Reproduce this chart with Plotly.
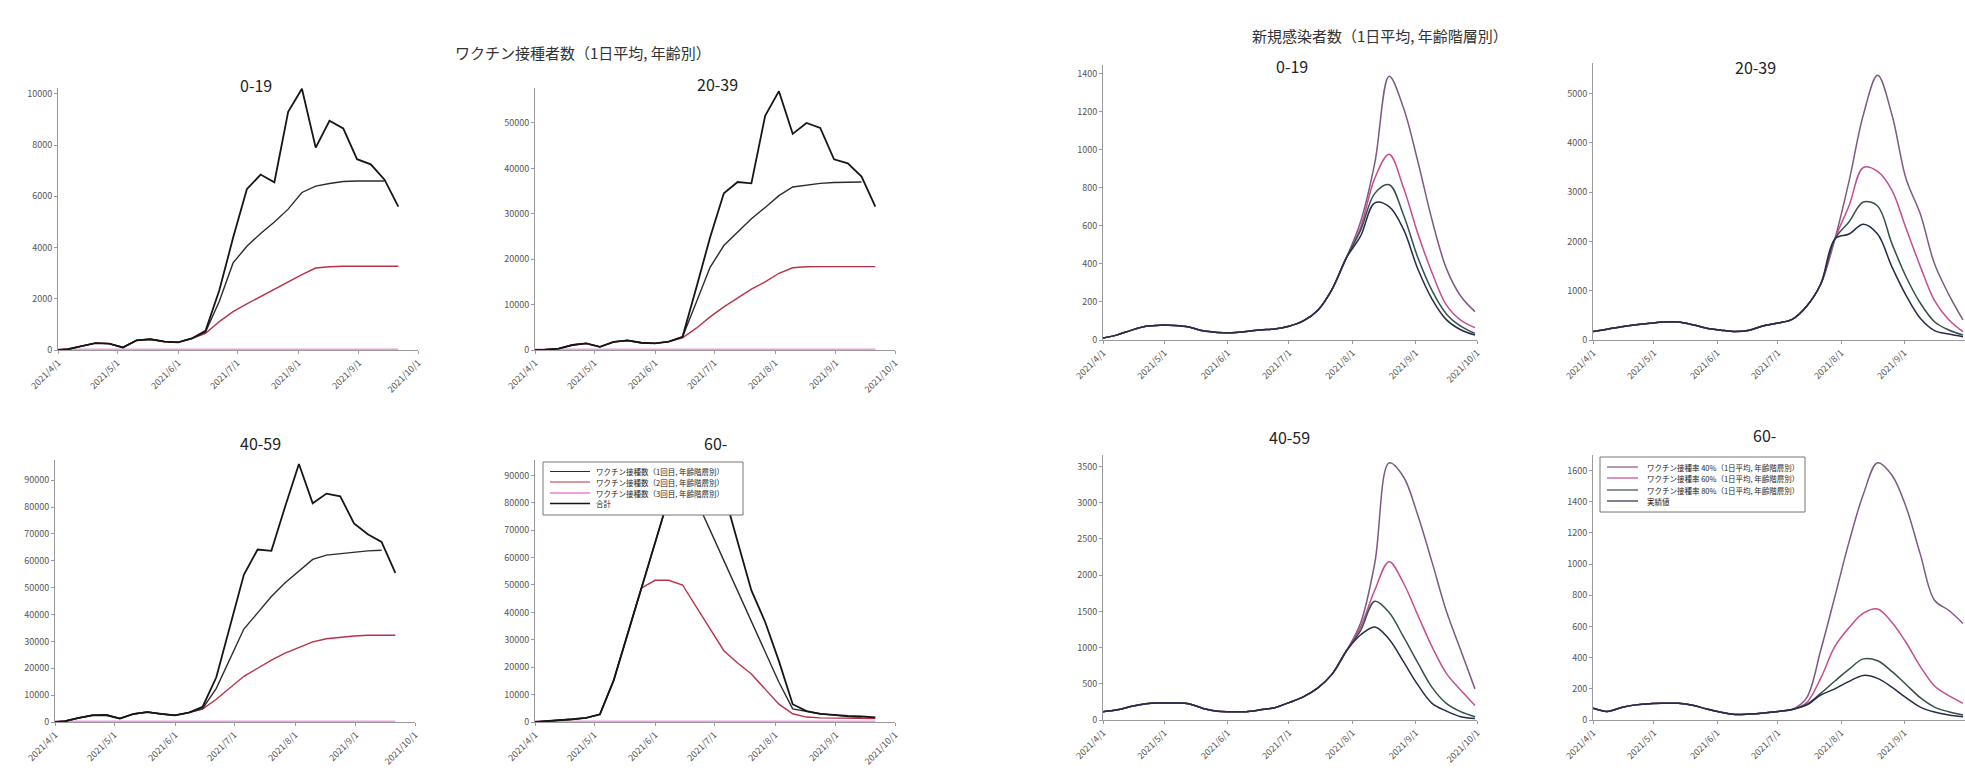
import pandas as pd
import plotly.graph_objects as go

W, H = 1965, 779
FONT = "Noto Sans CJK JP, Noto Sans, sans-serif"

# ---------------- time axes ----------------
start = pd.Timestamp("2021-04-01")
left_days = [0, 5, 12, 19, 26, 33, 40, 47, 54, 61, 68, 75, 82, 89, 96, 103,
             110, 117, 124, 131, 138, 145, 152, 159, 166, 173]
right_days = [0, 7, 14, 21, 28, 35, 42, 49, 56, 63, 70, 77, 84, 91, 98, 105,
              112, 119, 126, 133, 140, 147, 154, 161, 168, 175, 182]
left_dates = [start + pd.Timedelta(days=d) for d in left_days]
right_dates = [start + pd.Timedelta(days=d) for d in right_days]

month_ticks = ["2021-04-01", "2021-05-01", "2021-06-01", "2021-07-01",
               "2021-08-01", "2021-09-01", "2021-10-01"]
month_labels = ["2021/4/1", "2021/5/1", "2021/6/1", "2021/7/1",
                "2021/8/1", "2021/9/1", "2021/10/1"]

# ---------------- vaccinations per day (left block) ----------------
vac_0_19_total = [0, 30, 150, 270, 250, 100, 380, 420, 330, 300, 450, 750, 2330, 4380, 6280,
                  6850, 6550, 9300, 10200, 7900, 8950, 8650, 7450, 7250, 6650, 5600]
vac_0_19_first = [0, 30, 150, 270, 250, 100, 380, 420, 330, 300, 450, 700, 1900, 3400, 4050,
                  4550, 5000, 5500, 6150, 6400, 6500, 6580, 6600, 6600, 6600, None]
vac_0_19_second = [0, 30, 150, 270, 250, 100, 380, 420, 330, 300, 450, 650, 1110, 1500, 1800,
                   2090, 2380, 2640, 2940, 3200, 3250, 3270, 3270, 3270, 3270, 3270]

vac_20_39_total = [0, 50, 300, 1100, 1450, 700, 1800, 2100, 1600, 1450, 1850, 2900, 13700, 24800,
                   34500, 37000, 36700, 51600, 57000, 47600, 50000, 48900, 42000, 41100, 38200, 31600]
vac_20_39_first = [0, 50, 300, 1100, 1450, 700, 1800, 2100, 1600, 1450, 1850, 2900, 10500, 18200,
                   23000, 25900, 28900, 31400, 34000, 35900, 36300, 36700, 36900, 37000, 37000, None]
vac_20_39_second = [0, 50, 300, 1100, 1450, 700, 1800, 2100, 1600, 1450, 1850, 2700, 4800, 7300,
                    9500, 11400, 13400, 15000, 16900, 18100, 18350, 18360, 18360, 18360, 18360, 18360]

vac_40_59_total = [0, 300, 1500, 2500, 2600, 1300, 3000, 3700, 3000, 2500, 3500, 5600, 16650, 35700,
                   54800, 64200, 63700, 80200, 96000, 81400, 85000, 84000, 73900, 69900, 67000, 55500]
vac_40_59_first = [0, 300, 1500, 2500, 2600, 1300, 3000, 3700, 3000, 2500, 3500, 5000, 12550, 23760,
                   34600, 40600, 46700, 51800, 56300, 60500, 62100, 62700, 63200, 63700, 63900, None]
vac_40_59_second = [0, 300, 1500, 2500, 2600, 1300, 3000, 3700, 3000, 2500, 3500, 4800, 8450, 12800,
                    17000, 20000, 23000, 25600, 27850, 29800, 31000, 31600, 32000, 32300, 32300, 32300]

vac_60_total = [0, 200, 600, 1000, 1500, 2800, 15200, 32000, 48800, 65600, 82000, 90000, 92000, 90000,
                83700, 65800, 48000, 36500, 22200, 6500, 4000, 3000, 2500, 2200, 2000, 1700]
vac_60_first = [0, 200, 600, 1000, 1500, 2800, 15200, 32000, 48800, 65600, 82000, 88000, 81000, 70000,
                58900, 47800, 36700, 25600, 14500, 4800, 3900, 3000, 2500, 2000, 1800, None]
vac_60_second = [0, 200, 600, 1000, 1500, 2800, 15200, 32000, 48800, 51700, 51700, 50000, 42000, 34000,
                 26000, 21500, 17500, 12000, 6500, 3000, 1800, 1500, 1400, 1300, 1300, 1300]

vac_third = [0, 0, 0, 0, 0, 0, 0, 0, 0, 0, 0, 0, 0, 0, 0, 0, 0, 0, 0, 0, 0, 0, 0, 0, 0, 0]

# ---------------- new cases per day, four scenarios (right block) ----------------
cases_0_19_a = [10, 27, 52, 72, 78, 76, 68, 48, 40, 38, 45, 53, 58, 72, 100, 155, 265, 430,
                620, 930, 1385, 1220, 940, 630, 376, 231, 149]
cases_0_19_b = [10, 27, 52, 72, 78, 76, 68, 48, 40, 38, 45, 53, 58, 72, 100, 155, 265, 430,
                590, 850, 975, 801, 561, 353, 184, 104, 65]
cases_0_19_c = [10, 27, 52, 72, 78, 76, 68, 48, 40, 38, 45, 53, 58, 72, 100, 155, 265, 430,
                575, 770, 815, 658, 434, 259, 137, 73, 35]
cases_0_19_d = [10, 27, 52, 72, 78, 76, 68, 48, 40, 38, 45, 53, 58, 72, 100, 155, 265, 430,
                545, 720, 700, 582, 374, 215, 107, 54, 26]

cases_20_39_a = [170, 220, 270, 310, 340, 365, 365, 310, 240, 200, 172, 200, 290, 345, 420, 680, 1130, 2050,
                 3230, 4570, 5370, 4580, 3270, 2560, 1545, 926, 406]
cases_20_39_b = [170, 220, 270, 310, 340, 365, 365, 310, 240, 200, 172, 200, 290, 345, 420, 680, 1130, 2050,
                 2730, 3500, 3420, 3040, 2265, 1494, 797, 412, 169]
cases_20_39_c = [170, 220, 270, 310, 340, 365, 365, 310, 240, 200, 172, 200, 290, 345, 420, 680, 1130, 2050,
                 2400, 2800, 2720, 1960, 1284, 750, 371, 203, 101]
cases_20_39_d = [170, 220, 270, 310, 340, 365, 365, 310, 240, 200, 172, 200, 290, 345, 420, 680, 1130, 2050,
                 2150, 2350, 2150, 1490, 906, 440, 190, 122, 68]

cases_40_59_a = [115, 140, 190, 225, 235, 235, 225, 160, 120, 115, 115, 140, 170, 240, 320, 440, 630, 950,
                 1335, 2170, 3550, 3360, 2830, 2180, 1505, 967, 430]
cases_40_59_b = [115, 140, 190, 225, 235, 235, 225, 160, 120, 115, 115, 140, 170, 240, 320, 440, 630, 950,
                 1283, 1795, 2186, 1892, 1450, 1012, 645, 414, 200]
cases_40_59_c = [115, 140, 190, 225, 235, 235, 225, 160, 120, 115, 115, 140, 170, 240, 320, 440, 630, 950,
                 1235, 1640, 1485, 1150, 792, 451, 230, 115, 46]
cases_40_59_d = [115, 140, 190, 225, 235, 235, 225, 160, 120, 115, 115, 140, 170, 240, 320, 440, 630, 950,
                 1174, 1285, 1116, 806, 488, 230, 124, 46, 20]

cases_60_a = [75, 55, 80, 97, 105, 107, 107, 95, 70, 50, 35, 38, 45, 55, 68,
              140, 446, 792, 1144, 1448, 1650, 1572, 1367, 1064, 768, 704, 619]
cases_60_b = [75, 55, 80, 97, 105, 107, 107, 95, 70, 50, 35, 38, 45, 55, 68,
              110, 267, 472, 593, 685, 712, 627, 497, 344, 218, 156, 107]
cases_60_c = [75, 55, 80, 97, 105, 107, 107, 95, 70, 50, 35, 38, 45, 55, 68,
              100, 171, 250, 326, 392, 380, 312, 228, 143, 83, 53, 32]
cases_60_d = [75, 55, 80, 97, 105, 107, 107, 95, 70, 50, 35, 38, 45, 55, 68,
              95, 160, 200, 248, 286, 267, 211, 143, 83, 51, 32, 21]

age_groups = ["0-19", "20-39", "40-59", "60-"]
left_title = "ワクチン接種者数（1日平均, 年齢別）"
right_title = "新規感染者数（1日平均, 年齢階層別）"
left_legend = ["ワクチン接種数（1回目, 年齢階層別）", "ワクチン接種数（2回目, 年齢階層別）",
               "ワクチン接種数（3回目, 年齢階層別）", "合計"]
right_legend = ["ワクチン接種率 40%（1日平均, 年齢階層別）", "ワクチン接種率 60%（1日平均, 年齢階層別）",
                "ワクチン接種率 80%（1日平均, 年齢階層別）", "実績値"]

# ---------------- styles ----------------
C_TOTAL, C_FIRST, C_SECOND, C_THIRD = "#161616", "#2c2c2c", "#b8324a", "#f29ce6"
C_SC = ["#7d5a82", "#c44d92", "#35504a", "#262c4a"]
AXIS = "#9a9a9a"
TXT = "#333333"


def fx(px):
    return px / W


def fy(px):
    return 1 - px / H


# panel geometry in pixels: (x0, x1, y_top, y_bottom, y_max, dtick)
panels = [
    (58, 418, 88, 350, 10230, 2000),
    (535, 895, 88, 350, 57700, 10000),
    (55, 415, 460, 722, 97500, 10000),
    (535, 895, 460, 722, 95600, 10000),
    (1103, 1477, 65, 340, 1444, 200),
    (1593, 1965, 63, 340, 5620, 1000),
    (1103, 1477, 455, 720, 3660, 500),
    (1593, 1965, 455, 720, 1700, 200),
]

fig = go.Figure()
layout = dict(
    width=W, height=H, margin=dict(l=0, r=0, t=0, b=0),
    paper_bgcolor="white", plot_bgcolor="white", showlegend=False,
    font=dict(family=FONT, color=TXT),
)

for i, (x0, x1, yt, yb, ymax, dt) in enumerate(panels, start=1):
    sfx = "" if i == 1 else str(i)
    layout["xaxis" + sfx] = dict(
        domain=[fx(x0), fx(x1)], anchor="y" + sfx, type="date",
        range=["2021-04-01", "2021-10-01"],
        tickmode="array", tickvals=month_ticks, ticktext=month_labels, tickangle=-45,
        showline=True, linecolor=AXIS, linewidth=1, ticks="outside", ticklen=3,
        tickcolor=AXIS, tickfont=dict(size=9, color="#555555"),
        showgrid=False, zeroline=False, automargin=False, fixedrange=True,
    )
    layout["yaxis" + sfx] = dict(
        domain=[fy(yb), fy(yt)], anchor="x" + sfx, range=[0, ymax],
        tick0=0, dtick=dt, tickformat="d",
        showline=True, linecolor=AXIS, linewidth=1, ticks="outside", ticklen=3,
        tickcolor=AXIS, tickfont=dict(size=9, color="#555555"),
        showgrid=False, zeroline=False, automargin=False, fixedrange=True,
    )


def line(x, y, ax, color, width, shape="linear"):
    sfx = "" if ax == 1 else str(ax)
    fig.add_trace(go.Scatter(
        x=x, y=y, xaxis="x" + sfx, yaxis="y" + sfx, mode="lines",
        line=dict(color=color, width=width, shape=shape),
        connectgaps=False, hoverinfo="skip",
    ))


left_sets = [
    (vac_0_19_total, vac_0_19_first, vac_0_19_second),
    (vac_20_39_total, vac_20_39_first, vac_20_39_second),
    (vac_40_59_total, vac_40_59_first, vac_40_59_second),
    (vac_60_total, vac_60_first, vac_60_second),
]
for ax, (tot, first, second) in enumerate(left_sets, start=1):
    line(left_dates, vac_third, ax, C_THIRD, 3)
    line(left_dates, second, ax, C_SECOND, 1.4)
    line(left_dates, first, ax, C_FIRST, 1.4)
    line(left_dates, tot, ax, C_TOTAL, 1.8)

right_sets = [
    (cases_0_19_a, cases_0_19_b, cases_0_19_c, cases_0_19_d),
    (cases_20_39_a, cases_20_39_b, cases_20_39_c, cases_20_39_d),
    (cases_40_59_a, cases_40_59_b, cases_40_59_c, cases_40_59_d),
    (cases_60_a, cases_60_b, cases_60_c, cases_60_d),
]
for k, series in enumerate(right_sets):
    ax = 5 + k
    for s, col in zip(series, C_SC):
        line(right_dates, s, ax, col, 1.5, shape="spline")

annotations = []
shapes = []

# block titles
annotations.append(dict(x=fx(453), y=fy(40), xref="paper", yref="paper", text=left_title,
                        showarrow=False, font=dict(size=15, color=TXT)))
annotations.append(dict(x=fx(1510), y=fy(23), xref="paper", yref="paper", text=right_title,
                        showarrow=False, font=dict(size=15, color=TXT)))

# panel titles
title_pos = [(238, 71), (717, 70), (238, 443), (715, 443),
             (1292, 52), (1778, 53), (1289, 437), (1778, 435)]
for k, (tx, ty) in enumerate(title_pos):
    annotations.append(dict(x=fx(tx), y=fy(ty), xref="paper", yref="paper",
                            text=age_groups[k % 4], showarrow=False,
                            font=dict(size=16, color="#222222")))


def legend_box(x0, x1, y0, y1, rows, line_x0, line_x1, text_x, labels, colors, widths):
    shapes.append(dict(type="rect", xref="paper", yref="paper",
                       x0=fx(x0), x1=fx(x1), y0=fy(y1), y1=fy(y0),
                       fillcolor="white", line=dict(color="#777777", width=1), layer="above"))
    for ry, lab, col, wd in zip(rows, labels, colors, widths):
        shapes.append(dict(type="line", xref="paper", yref="paper",
                           x0=fx(line_x0), x1=fx(line_x1), y0=fy(ry), y1=fy(ry),
                           line=dict(color=col, width=wd), layer="above"))
        annotations.append(dict(x=fx(text_x), y=fy(ry), xref="paper", yref="paper",
                                xanchor="left", yanchor="middle", text=lab, showarrow=False,
                                font=dict(size=7.5, color="#222222")))


legend_box(543, 743, 462, 515, [471.5, 482, 493, 503.5], 550, 590, 594,
           left_legend, [C_FIRST, C_SECOND, C_THIRD, C_TOTAL], [1.2, 1.2, 2, 1.5])
legend_box(1600, 1805, 457, 512, [467, 478, 490, 501], 1607, 1638, 1645,
           right_legend, C_SC, [1.2, 1.2, 1.2, 1.2])

layout["annotations"] = annotations
layout["shapes"] = shapes
fig.update_layout(**layout)

fig.write_html("out.html", config={"displayModeBar": False, "staticPlot": True})
